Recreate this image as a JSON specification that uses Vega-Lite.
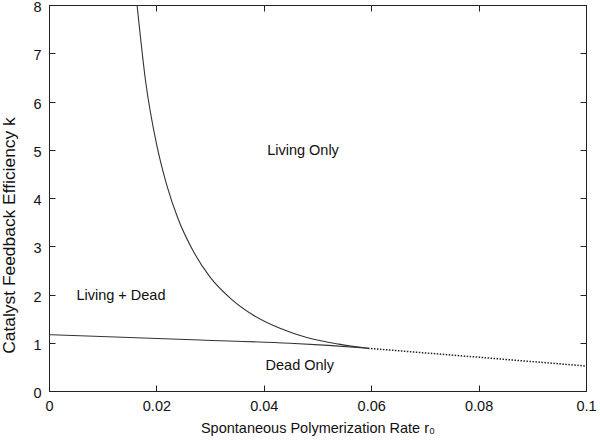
{
  "$schema": "https://vega.github.io/schema/vega-lite/v6.json",
  "width": 537,
  "height": 386,
  "autosize": {"type": "none"},
  "padding": {"left": 49, "top": 5, "right": 14, "bottom": 50},
  "background": "white",
  "config": {
    "view": {"stroke": "#222", "strokeWidth": 1},
    "font": "Liberation Sans",
    "axis": {"grid": false, "domainColor": "#222", "tickColor": "#222", "labelColor": "#111", "titleColor": "#111", "labelFont": "Liberation Sans", "titleFont": "Liberation Sans", "labelFontSize": 14.5, "titleFontSize": 14.5, "titleFontWeight": "normal", "tickSize": -6, "labelPadding": 14, "labelFlush": false, "labelOverlap": false}
  },
  "datasets": {
    "curves": [
      {"series": "upper", "r": 0.0164, "k": 8.0},
      {"series": "upper", "r": 0.018, "k": 6.41},
      {"series": "upper", "r": 0.020, "k": 5.13},
      {"series": "upper", "r": 0.022, "k": 4.24},
      {"series": "upper", "r": 0.024, "k": 3.58},
      {"series": "upper", "r": 0.027, "k": 2.87},
      {"series": "upper", "r": 0.030, "k": 2.36},
      {"series": "upper", "r": 0.034, "k": 1.90},
      {"series": "upper", "r": 0.038, "k": 1.575},
      {"series": "upper", "r": 0.043, "k": 1.30},
      {"series": "upper", "r": 0.048, "k": 1.11},
      {"series": "upper", "r": 0.054, "k": 0.971},
      {"series": "upper", "r": 0.0594, "k": 0.885},
      {"series": "lower", "r": 0.0, "k": 1.167},
      {"series": "lower", "r": 0.0281, "k": 1.057},
      {"series": "lower", "r": 0.0449, "k": 0.989},
      {"series": "lower", "r": 0.0520, "k": 0.945},
      {"series": "lower", "r": 0.0594, "k": 0.885},
      {"series": "dotted", "r": 0.0594, "k": 0.885},
      {"series": "dotted", "r": 0.08, "k": 0.70},
      {"series": "dotted", "r": 0.1, "k": 0.518}
    ],
    "labels": [
      {"label": "Living Only", "r": 0.0473, "k": 4.97},
      {"label": "Living + Dead", "r": 0.0134, "k": 1.97},
      {"label": "Dead Only", "r": 0.0467, "k": 0.52}
    ]
  },
  "layer": [
    {
      "data": {"name": "curves"},
      "transform": [{"filter": "datum.series === 'upper'"}],
      "mark": {"type": "line", "color": "#333", "strokeWidth": 1.1, "interpolate": "monotone", "clip": true},
      "encoding": {
        "x": {"field": "r", "type": "quantitative", "scale": {"domain": [0, 0.1], "nice": false},
              "axis": {"orient": "bottom", "values": [0, 0.02, 0.04, 0.06, 0.08, 0.1], "format": "~g", "title": "Spontaneous Polymerization Rate r₀", "titleY": 37, "titleBaseline": "middle"}},
        "y": {"field": "k", "type": "quantitative", "scale": {"domain": [0, 8], "nice": false},
              "axis": {"orient": "left", "values": [0, 1, 2, 3, 4, 5, 6, 7, 8], "labelOffset": 2.5, "title": "Catalyst Feedback Efficiency k", "titleFontSize": 17.4, "titleX": -40, "titleY": 230, "titleBaseline": "middle"}}
      }
    },
    {
      "data": {"name": "curves"},
      "transform": [{"filter": "datum.series === 'lower'"}],
      "mark": {"type": "line", "color": "#333", "strokeWidth": 1.1, "interpolate": "monotone"},
      "encoding": {
        "x": {"field": "r", "type": "quantitative", "axis": null},
        "y": {"field": "k", "type": "quantitative", "axis": null}
      }
    },
    {
      "data": {"name": "curves"},
      "transform": [{"filter": "datum.series === 'dotted'"}],
      "mark": {"type": "line", "color": "#222", "strokeWidth": 1.5, "strokeDash": [1.5, 1.5]},
      "encoding": {
        "x": {"field": "r", "type": "quantitative", "axis": null},
        "y": {"field": "k", "type": "quantitative", "axis": null}
      }
    },
    {
      "data": {"name": "labels"},
      "mark": {"type": "text", "font": "Liberation Sans", "fontSize": 14.5, "color": "#111"},
      "encoding": {
        "x": {"field": "r", "type": "quantitative",
              "axis": {"orient": "top", "values": [0, 0.02, 0.04, 0.06, 0.08, 0.1], "labels": false, "title": null}},
        "y": {"field": "k", "type": "quantitative",
              "axis": {"orient": "right", "values": [0, 1, 2, 3, 4, 5, 6, 7, 8], "labels": false, "title": null}},
        "text": {"field": "label"}
      }
    }
  ],
  "resolve": {"axis": {"x": "independent", "y": "independent"}}
}
